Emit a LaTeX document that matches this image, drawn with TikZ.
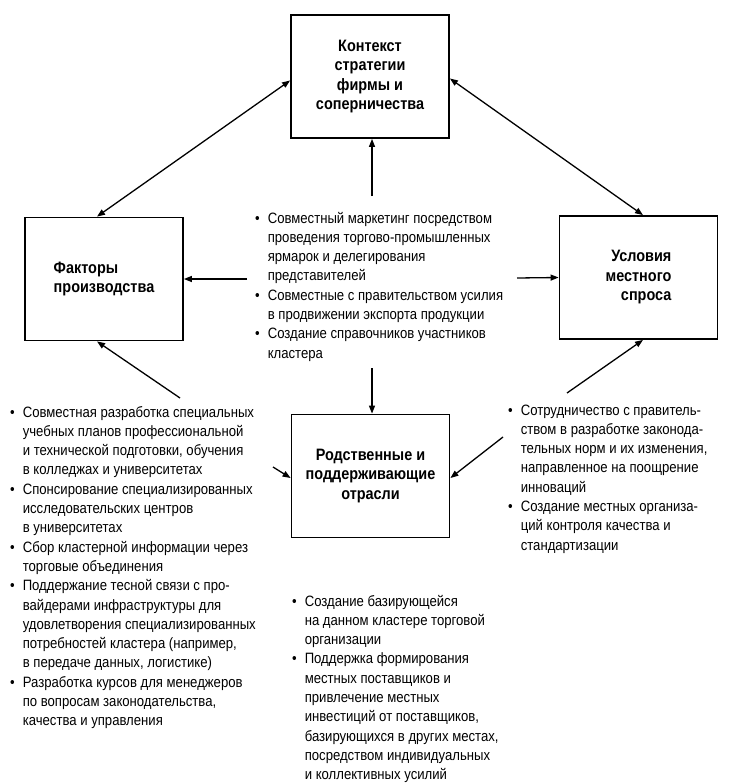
\documentclass[tikz,border=0pt]{standalone}
\usepackage{fontspec}
\setmainfont{Liberation Sans}[FakeStretch=0.875]
\usetikzlibrary{arrows.meta,calc}
\newcommand\bl{\textbullet}
\begin{document}
\begin{tikzpicture}[x=1pt,y=-1pt,
  box/.style={draw, line width=1.8pt, minimum width=158pt, minimum height=123pt, inner sep=0pt,
    font=\bfseries\fontsize{16.5}{19.5}\selectfont},
  lst/.style={anchor=base west, inner sep=0pt, font=\fontsize{15}{19.3}\selectfont},
  arr/.style={-{Triangle[length=8pt,width=6pt]}, line width=1.3pt},
  darr/.style={{Triangle[length=8pt,width=6pt]}-{Triangle[length=8pt,width=6pt]}, line width=1.3pt}]
\useasboundingbox (0,0) rectangle (733,784);

\node[box, align=center] (top) at (370,76.5) {Контекст\\стратегии\\фирмы и\\соперничества};
\node[box, align=left] (fl) at (104,279) {Факторы\\производства};
\node[box, align=right] (ld) at (638.5,277.5) {Условия\\местного\\спроса};
\node[box, align=center] (rel) at (370.5,476) {Родственные и\\поддерживающие\\отрасли};

\node[lst] (ctext) at (255,223) {\begin{tabular}[t]{@{}l@{\hspace{8pt}}l@{}}
\bl & Совместный маркетинг посредством\\
 & проведения торгово-промышленных\\
 & ярмарок и делегирования\\
 & представителей\\
\bl & Совместные с правительством усилия\\
 & в продвижении экспорта продукции\\
\bl & Создание справочников участников\\
 & кластера
\end{tabular}};

\node[lst] (ltext) at (10,417) {\begin{tabular}[t]{@{}l@{\hspace{8pt}}l@{}}
\bl & Совместная разработка специальных\\
 & учебных планов профессиональной\\
 & и технической подготовки, обучения\\
 & в колледжах и университетах\\
\bl & Спонсирование специализированных\\
 & исследовательских центров\\
 & в университетах\\
\bl & Сбор кластерной информации через\\
 & торговые объединения\\
\bl & Поддержание тесной связи с про-\\
 & вайдерами инфраструктуры для\\
 & удовлетворения специализированных\\
 & потребностей кластера (например,\\
 & в передаче данных, логистике)\\
\bl & Разработка курсов для менеджеров\\
 & по вопросам законодательства,\\
 & качества и управления
\end{tabular}};

\node[lst] (rtext) at (508,415) {\begin{tabular}[t]{@{}l@{\hspace{8pt}}l@{}}
\bl & Сотрудничество с правитель-\\
 & ством в разработке законода-\\
 & тельных норм и их изменения,\\
 & направленное на поощрение\\
 & инноваций\\
\bl & Создание местных организа-\\
 & ций контроля качества и\\
 & стандартизации
\end{tabular}};

\node[lst] (btext) at (292,606) {\begin{tabular}[t]{@{}l@{\hspace{8pt}}l@{}}
\bl & Создание базирующейся\\
 & на данном кластере торговой\\
 & организации\\
\bl & Поддержка формирования\\
 & местных поставщиков и\\
 & привлечение местных\\
 & инвестиций от поставщиков,\\
 & базирующихся в других местах,\\
 & посредством индивидуальных\\
 & и коллективных усилий
\end{tabular}};

\coordinate (cu) at (372,196);
\coordinate (cd) at (372,368);
\coordinate (cl) at (247,279);
\coordinate (cr) at (517,278);
\coordinate (lb) at (180,398);
\coordinate (lr) at (273,467);
\coordinate (rr) at (503,437);
\coordinate (rb) at (567,393);

\draw[darr] ($(fl.north)+(-7,0)$) -- ($(top.west)+(0,4)$);
\draw[darr] ($(top.east)+(0,2)$) -- ($(ld.north)+(4.5,0)$);
\draw[arr] (cu) -- ($(top.south)+(2,0)$);
\draw[arr] (cd) -- ($(rel.north)+(1.5,0)$);
\draw[arr] (cl) -- (fl.east);
\draw[arr] (cr) -- (ld.west);
\draw[arr] (lb) -- ($(fl.south)+(-7,0)$);
\draw[arr] (lr) -- ($(rel.west)+(0,2)$);
\draw[arr] (rr) -- ($(rel.east)+(0,2)$);
\draw[arr] (rb) -- ($(ld.south)+(4.5,0)$);
\end{tikzpicture}
\end{document}
